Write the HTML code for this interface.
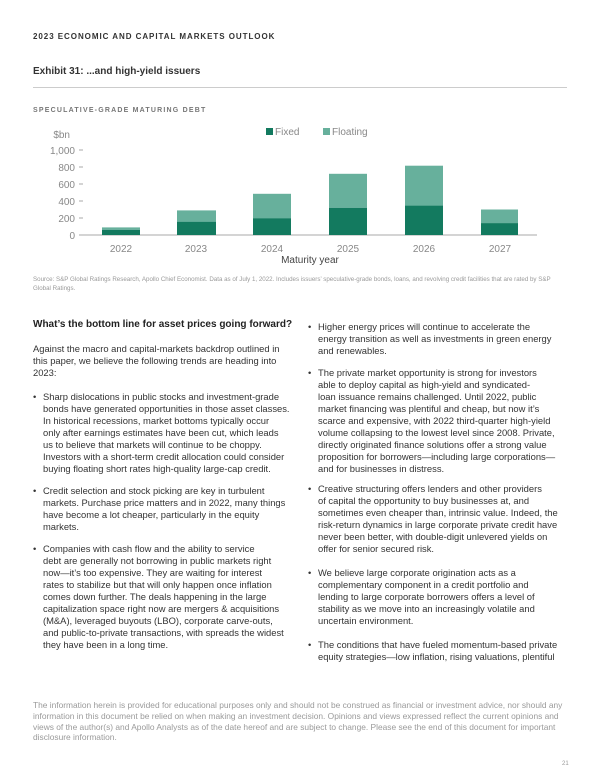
<!DOCTYPE html>
<html><head><meta charset="utf-8"><style>
body{margin:0;width:600px;height:776px;background:#fff;position:relative;font-family:"Liberation Sans",sans-serif;color:#222;overflow:hidden}
.a{position:absolute;white-space:nowrap}
.b{font-size:9.4px;color:#333}
.f{font-size:7px;color:#9a9a9a}
</style></head><body>
<div class="a" style="left:33px;top:32px;font-size:8px;font-weight:bold;letter-spacing:0.95px;color:#333">2023 ECONOMIC AND CAPITAL MARKETS OUTLOOK</div>
<div class="a" style="left:33px;top:66px;font-size:10px;font-weight:bold;color:#333">Exhibit 31: ...and high-yield issuers</div>
<div class="a" style="left:33px;top:87px;width:534px;height:1px;background:#ccc"></div>
<div class="a" style="left:33px;top:107px;font-size:7px;letter-spacing:1.2px;color:#777;font-weight:bold">SPECULATIVE-GRADE MATURING DEBT</div>
<svg class="a" style="left:0;top:0" width="600" height="300" font-family="Liberation Sans, sans-serif">
<g font-size="10" fill="#888" text-anchor="end">
<text x="70" y="138">$bn</text>
<text x="75" y="154">1,000</text><text x="75" y="171">800</text><text x="75" y="188">600</text><text x="75" y="205">400</text><text x="75" y="222">200</text><text x="75" y="239">0</text>
</g>
<g stroke="#aaa" stroke-width="1">
<line x1="79" y1="235" x2="537" y2="235"/>
<line x1="79" y1="150" x2="83" y2="150"/><line x1="79" y1="167" x2="83" y2="167"/><line x1="79" y1="184" x2="83" y2="184"/><line x1="79" y1="201" x2="83" y2="201"/><line x1="79" y1="218" x2="83" y2="218"/>
</g>
<rect x="266" y="128" width="7" height="7" fill="#137a5f"/><text x="275" y="135" font-size="10" fill="#888">Fixed</text>
<rect x="323" y="128" width="7" height="7" fill="#67b09c"/><text x="332" y="135" font-size="10" fill="#888">Floating</text>
<g fill="#67b09c">
<rect x="102" y="227.4" width="38" height="2.5"/><rect x="177" y="210.4" width="39" height="11.5"/><rect x="253" y="193.8" width="38" height="24.7"/><rect x="329" y="173.8" width="38" height="34"/><rect x="405" y="165.7" width="38" height="40.4"/><rect x="481" y="209.5" width="37" height="13.6"/>
</g>
<g fill="#137a5f">
<rect x="102" y="229.9" width="38" height="5.1"/><rect x="177" y="221.8" width="39" height="13.2"/><rect x="253" y="218.4" width="38" height="16.6"/><rect x="329" y="207.8" width="38" height="27.2"/><rect x="405" y="205.7" width="38" height="29.3"/><rect x="481" y="223.1" width="37" height="11.9"/>
</g>
<g font-size="10" fill="#888" text-anchor="middle">
<text x="121" y="252">2022</text><text x="196" y="252">2023</text><text x="272" y="252">2024</text><text x="348" y="252">2025</text><text x="424" y="252">2026</text><text x="500" y="252">2027</text>
</g>
<text x="310" y="263" font-size="10" fill="#444" text-anchor="middle">Maturity year</text>
</svg>
<div class="a f" style="left:33px;top:276px;font-size:6.2px;line-height:8.5px">Source: S&amp;P Global Ratings Research, Apollo Chief Economist. Data as of July 1, 2022. Includes issuers’ speculative-grade bonds, loans, and revolving credit facilities that are rated by S&amp;P<br>Global Ratings.</div>

<div class="a" style="left:33px;top:319px;font-size:10px;font-weight:bold;color:#222">What’s the bottom line for asset prices going forward?</div>
<div class="a b" style="left:33px;top:343px;line-height:12px">Against the macro and capital-markets backdrop outlined in<br>this paper, we believe the following trends are heading into<br>2023:</div>
<div class="a b" style="left:33px;top:391px;line-height:12px">•</div>
<div class="a b" style="left:43px;top:391px;line-height:12px">Sharp dislocations in public stocks and investment-grade<br>bonds have generated opportunities in those asset classes.<br>In historical recessions, market bottoms typically occur<br>only after earnings estimates have been cut, which leads<br>us to believe that markets will continue to be choppy.<br>Investors with a short-term credit allocation could consider<br>buying floating short rates high-quality large-cap credit.</div>
<div class="a b" style="left:33px;top:485px">•</div>
<div class="a b" style="left:43px;top:485px;line-height:12px">Credit selection and stock picking are key in turbulent<br>markets. Purchase price matters and in 2022, many things<br>have become a lot cheaper, particularly in the equity<br>markets.</div>
<div class="a b" style="left:33px;top:543px">•</div>
<div class="a b" style="left:43px;top:543px;line-height:12px">Companies with cash flow and the ability to service<br>debt are generally not borrowing in public markets right<br>now—it’s too expensive. They are waiting for interest<br>rates to stabilize but that will only happen once inflation<br>comes down further. The deals happening in the large<br>capitalization space right now are mergers &amp; acquisitions<br>(M&amp;A), leveraged buyouts (LBO), corporate carve-outs,<br>and public-to-private transactions, with spreads the widest<br>they have been in a long time.</div>

<div class="a b" style="left:308px;top:321px">•</div>
<div class="a b" style="left:318px;top:321px;line-height:12px">Higher energy prices will continue to accelerate the<br>energy transition as well as investments in green energy<br>and renewables.</div>
<div class="a b" style="left:308px;top:367px">•</div>
<div class="a b" style="left:318px;top:367px;line-height:12px">The private market opportunity is strong for investors<br>able to deploy capital as high-yield and syndicated-<br>loan issuance remains challenged. Until 2022, public<br>market financing was plentiful and cheap, but now it’s<br>scarce and expensive, with 2022 third-quarter high-yield<br>volume collapsing to the lowest level since 2008. Private,<br>directly originated finance solutions offer a strong value<br>proposition for borrowers—including large corporations—<br>and for businesses in distress.</div>
<div class="a b" style="left:308px;top:483px">•</div>
<div class="a b" style="left:318px;top:483px;line-height:12px">Creative structuring offers lenders and other providers<br>of capital the opportunity to buy businesses at, and<br>sometimes even cheaper than, intrinsic value. Indeed, the<br>risk-return dynamics in large corporate private credit have<br>never been better, with double-digit unlevered yields on<br>offer for senior secured risk.</div>
<div class="a b" style="left:308px;top:567px">•</div>
<div class="a b" style="left:318px;top:567px;line-height:12px">We believe large corporate origination acts as a<br>complementary component in a credit portfolio and<br>lending to large corporate borrowers offers a level of<br>stability as we move into an increasingly volatile and<br>uncertain environment.</div>
<div class="a b" style="left:308px;top:639px">•</div>
<div class="a b" style="left:318px;top:639px;line-height:12px">The conditions that have fueled momentum-based private<br>equity strategies—low inflation, rising valuations, plentiful</div>

<div class="a f" style="left:33px;top:700px;font-size:8.4px;line-height:10.8px">The information herein is provided for educational purposes only and should not be construed as financial or investment advice, nor should any<br>information in this document be relied on when making an investment decision. Opinions and views expressed reflect the current opinions and<br>views of the author(s) and Apollo Analysts as of the date hereof and are subject to change. Please see the end of this document for important<br>disclosure information.</div>
<div class="a f" style="left:562px;top:761px;font-size:6px">21</div>
</body></html>
